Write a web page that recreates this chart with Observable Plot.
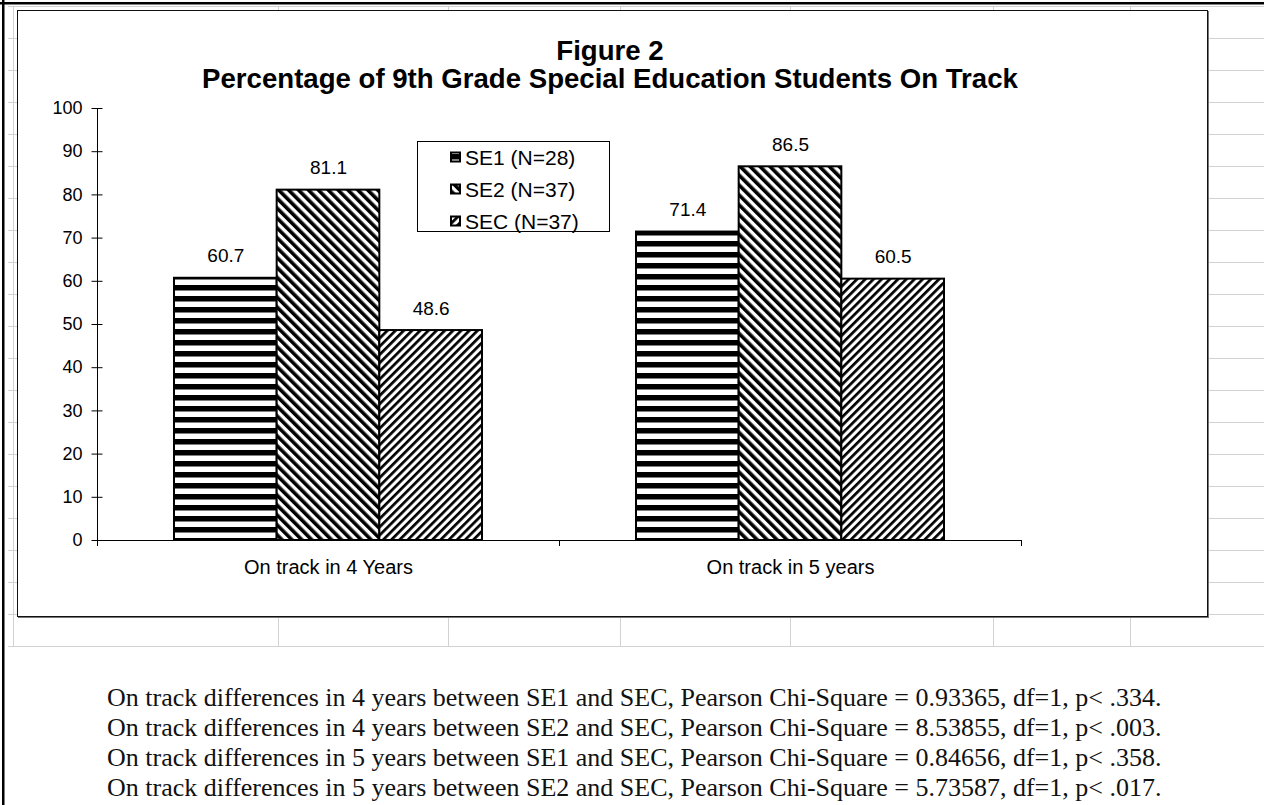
<!DOCTYPE html>
<html><head><meta charset="utf-8">
<script src="https://cdn.jsdelivr.net/npm/d3@7"></script>
<script src="https://cdn.jsdelivr.net/npm/@observablehq/plot@0.6"></script>
<style>
html,body{margin:0;padding:0;background:#fff;}
#page{position:relative;width:1264px;height:805px;overflow:hidden;background:#fff;}
#bg,#fg{position:absolute;left:0;top:0;}
#box{position:absolute;left:17px;top:10px;width:1191px;height:607px;box-sizing:border-box;border:1px solid #111;background:#fff;box-shadow:1px 1px 0 #777;}
#chart{position:absolute;left:17px;top:10px;}
</style></head><body>
<div id="page">
<svg width="0" height="0" style="position:absolute;left:0;top:0">
  <defs>
    <pattern id="pSE1" patternUnits="userSpaceOnUse" width="12" height="11">
      <rect width="12" height="11" fill="#fff"/><rect width="12" height="5.5" fill="#000"/>
    </pattern>
    <pattern id="pSE2" patternUnits="userSpaceOnUse" width="7" height="7" patternTransform="rotate(-45)">
      <rect width="7" height="7" fill="#fff"/><rect width="3.6" height="7" fill="#000"/>
    </pattern>
    <pattern id="pSEC" patternUnits="userSpaceOnUse" width="5.8" height="5.8" patternTransform="rotate(45)">
      <rect width="5.8" height="5.8" fill="#fff"/><rect width="2.7" height="5.8" fill="#000"/>
    </pattern>
  </defs>
</svg>
<svg id="bg" width="1264" height="805"></svg>
<div id="box"></div>
<div id="chart"></div>
<svg id="fg" width="1264" height="805"></svg>
</div>
<script>
// ---- data ----
const titleLines = ["Figure 2", "Percentage of 9th Grade Special Education Students On Track"];
const categories = ["On track in 4 Years", "On track in 5 years"];
const series = ["SE1 (N=28)", "SE2 (N=37)", "SEC (N=37)"];
const se1 = [60.7, 71.4];
const se2 = [81.1, 86.5];
const sec = [48.6, 60.5];
const yTicks = [0, 10, 20, 30, 40, 50, 60, 70, 80, 90, 100];
const footnotes = [
  "On track differences in 4 years between SE1 and SEC, Pearson Chi-Square = 0.93365, df=1, p< .334.",
  "On track differences in 4 years between SE2 and SEC, Pearson Chi-Square = 8.53855, df=1, p< .003.",
  "On track differences in 5 years between SE1 and SEC, Pearson Chi-Square = 0.84656, df=1, p< .358.",
  "On track differences in 5 years between SE2 and SEC, Pearson Chi-Square = 5.73587, df=1, p< .017."
];

// ---- styles ----
const patterns = ["url(#pSE1)", "url(#pSE2)", "url(#pSEC)"];
const values = [se1, se2, sec];
const sans = "Arial, 'Liberation Sans', Helvetica, sans-serif";
const serif = "'Times New Roman', 'Liberation Serif', serif";
const bw = 1 / 4.5; // bar width as share of a category (Excel gap width 150%)

const rows = categories.flatMap((c, ci) =>
  series.map((s, sj) => ({cat: c, ci, series: s, sj, value: values[sj][ci], pat: patterns[sj]})));

// ---- spreadsheet background ----
const bg = d3.select("#bg");
const gridColor = "#d2d2d2";
const rowLines = d3.range(6, 647, 32);
bg.selectAll("line.h").data(rowLines).join("line")
  .attr("x1", 8).attr("x2", 1264).attr("y1", d => d + 0.5).attr("y2", d => d + 0.5)
  .attr("stroke", gridColor).attr("stroke-width", 1);
const colLines = [13, 278, 448, 620, 790, 993, 1130];
bg.selectAll("line.v").data(colLines).join("line")
  .attr("x1", d => d + 0.5).attr("x2", d => d + 0.5).attr("y1", 6).attr("y2", 646)
  .attr("stroke", gridColor).attr("stroke-width", 1);
bg.append("rect").attr("x", 0).attr("y", 2).attr("width", 1264).attr("height", 2.5).attr("fill", "#000");
bg.append("rect").attr("x", 2).attr("y", 0).attr("width", 2.5).attr("height", 805).attr("fill", "#000");

// ---- chart ----
const chart = Plot.plot({
  width: 1190, height: 607,
  marginLeft: 80, marginRight: 186, marginTop: 98, marginBottom: 77,
  style: {background: "transparent", overflow: "visible", fontFamily: sans, fontSize: "18px", color: "#000"},
  x: {type: "linear", domain: [0, categories.length], ticks: d3.range(categories.length + 1),
      tickSize: 6, tickFormat: () => "", label: null},
  y: {domain: [0, 100], ticks: yTicks, tickSize: 11, tickPadding: 4, label: null},
  color: {type: "identity"},
  marks: [
    Plot.rect(rows, {
      x1: r => r.ci + 0.5 + (r.sj - 1.5) * bw,
      x2: r => r.ci + 0.5 + (r.sj - 0.5) * bw,
      y1: () => 0, y2: "value",
      fill: "pat", stroke: "#000", strokeWidth: 2
    }),
    Plot.text(rows, {
      x: r => r.ci + 0.5 + (r.sj - 1) * bw, y: "value",
      text: r => r.value.toFixed(1), dy: -22, fontSize: 19, fill: "#000"
    }),
    Plot.text(categories, {
      x: (c, i) => i + 0.5, y: () => 0, text: c => c, dy: 27, fontSize: 20, fill: "#000"
    }),
    Plot.ruleX([0], {stroke: "#000"}),
    Plot.ruleY([0], {stroke: "#000"})
  ]
});
document.getElementById("chart").appendChild(chart);

// Excel-style "cross" tick marks: shift the y tick lines half their length to the right
const sh = (el) => {
  const t = el.getAttribute("transform") || "";
  el.setAttribute("transform", "translate(5.5,0) " + t);
};
chart.querySelectorAll('g[aria-label="y-axis"] .tick line, g[aria-label="y-axis tick"]').forEach(sh);
chart.querySelectorAll('g[aria-label^="y-axis"] text, g[aria-label^="x-axis"] text').forEach(el => el.setAttribute("fill", "#000"));
chart.querySelectorAll('g[aria-label^="y-axis"] line, g[aria-label^="x-axis"] line, g[aria-label="y-axis tick"], g[aria-label="x-axis tick"]').forEach(el => {
  el.setAttribute("stroke", "#000"); el.setAttribute("stroke-opacity", "1");
});

// ---- title, legend, footnotes ----
const fg = d3.select("#fg");
fg.selectAll("text.title").data(titleLines).join("text")
  .attr("x", 610).attr("y", (d, i) => 60 + i * 28)
  .attr("text-anchor", "middle").attr("font-family", sans).attr("font-weight", "bold")
  .attr("font-size", 27.6).attr("fill", "#000").text(d => d);

const lg = fg.append("g");
lg.append("rect").attr("x", 417.5).attr("y", 141.5).attr("width", 192).attr("height", 90)
  .attr("fill", "#fff").attr("stroke", "#000").attr("stroke-width", 1);
series.forEach((s, j) => {
  const cy = 157 + j * 32;
  lg.append("rect").attr("x", 451).attr("y", cy - 4.5).attr("width", 9).attr("height", 9)
    .attr("fill", patterns[j]).attr("stroke", "#000").attr("stroke-width", 2);
  lg.append("text").attr("x", 465).attr("y", cy + 7.5).attr("font-family", sans)
    .attr("font-size", 21).attr("fill", "#000").text(s);
});

fg.selectAll("text.foot").data(footnotes).join("text")
  .attr("x", 107).attr("y", (d, i) => 706 + i * 30)
  .attr("font-family", serif).attr("font-size", 26).attr("fill", "#111").text(d => d);
</script>
</body></html>
